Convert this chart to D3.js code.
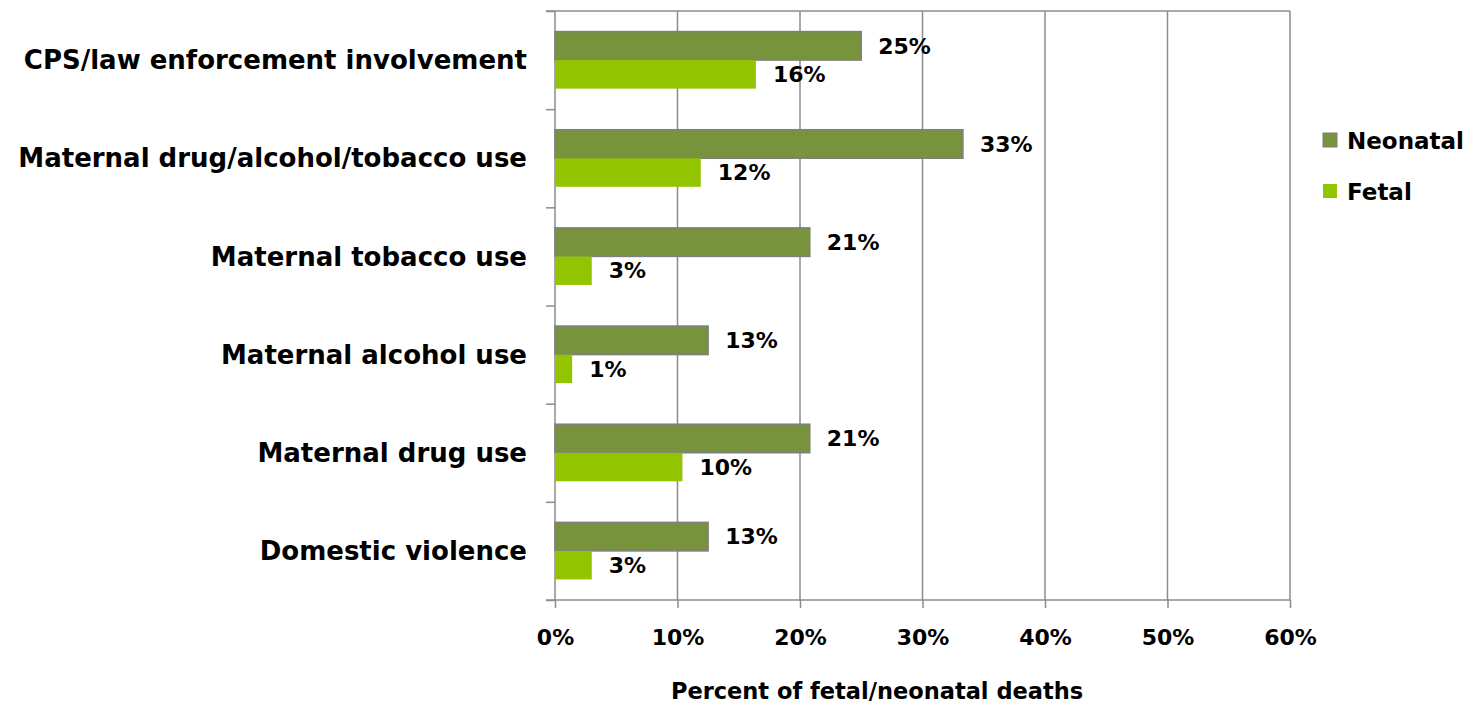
<!DOCTYPE html>
<html><head><meta charset="utf-8">
<script src="https://cdn.jsdelivr.net/npm/d3@7"></script>
<style>body{margin:0;background:#fff}svg{display:block}text{font-family:"DejaVu Sans",sans-serif;font-weight:700;fill:#000}</style>
</head><body>
<svg id="c" width="1470" height="708"></svg>
<script>
const categories = ["CPS/law enforcement involvement","Maternal drug/alcohol/tobacco use","Maternal tobacco use","Maternal alcohol use","Maternal drug use","Domestic violence"];
const seriesNames = ["Neonatal","Fetal"];
const neonatal = [25.0, 33.3, 20.8, 12.5, 20.8, 12.5];
const fetal = [16.4, 11.9, 3.0, 1.4, 10.4, 3.0];
const xTicks = [0,10,20,30,40,50,60];
const colors = ["#77933C","#92C400"];

const svg = d3.select("#c");
const m = {l:555, r:1290, t:11, b:600};
const x = d3.scaleLinear().domain([0,60]).range([m.l, m.r]);
const y = d3.scaleBand().domain(categories).range([m.t, m.b]);
const inner = d3.scaleBand().domain(seriesNames).range([0, y.bandwidth()]).paddingOuter(0.72).paddingInner(0);

// gridlines
svg.append("g").selectAll("line").data(xTicks.slice(1)).join("line")
  .attr("x1",d=>x(d)).attr("x2",d=>x(d)).attr("y1",m.t).attr("y2",m.b)
  .attr("stroke","#8c8c8c").attr("stroke-width",1.5);
// top border
svg.append("line").attr("x1",546).attr("x2",m.r).attr("y1",m.t).attr("y2",m.t).attr("stroke","#8c8c8c").attr("stroke-width",1.5);

// y axis
const ya = d3.axisLeft(d3.scaleLinear().domain([0,categories.length]).range([m.t,m.b])).ticks(categories.length).tickSize(9).tickFormat("");
const gy = svg.append("g").attr("transform",`translate(${m.l},0)`).call(ya);
gy.selectAll("path,line").attr("stroke","#8c8c8c").attr("stroke-width",1.5);
gy.select("path").attr("d",`M0,${m.t}V${m.b}`);

// x axis
const xa = d3.axisBottom(x).tickValues(xTicks).tickSize(8).tickFormat(d=>d+"%");
const gx = svg.append("g").attr("transform",`translate(0,${m.b})`).call(xa);
gx.select("path").attr("d",`M546,0H${m.r}`).attr("stroke","#8c8c8c").attr("stroke-width",1.5);
gx.selectAll("line").attr("stroke","#8c8c8c").attr("stroke-width",1.5);
gx.selectAll("text").attr("dy",0).attr("y",45).style("font-size","22px").style("font-family",null);

// category labels
svg.append("g").selectAll("text").data(categories).join("text")
  .attr("x",527).attr("y",d=>y(d)+y.bandwidth()/2).attr("dy","0.35em")
  .attr("text-anchor","end").style("font-size","26px").text(d=>d);

// bars
const data = [];
categories.forEach((c,i)=>{data.push({c,s:"Neonatal",v:neonatal[i]});data.push({c,s:"Fetal",v:fetal[i]});});
const bars = svg.append("g");
bars.selectAll("rect").data(data).join("rect")
  .attr("x",x(0)).attr("y",d=>y(d.c)+inner(d.s))
  .attr("width",d=>x(d.v)-x(0)).attr("height",inner.bandwidth())
  .attr("fill",d=>colors[seriesNames.indexOf(d.s)])
  .attr("stroke",d=>d.s==="Neonatal"?"#7f7f7f":"none").attr("stroke-width",1.5);
svg.append("g").selectAll("text").data(data).join("text")
  .attr("x",d=>x(d.v)+17).attr("y",d=>y(d.c)+inner(d.s)+inner.bandwidth()/2).attr("dy","0.35em")
  .style("font-size","22px").text(d=>Math.round(d.v)+"%");

// axis title
svg.append("text").attr("x",877).attr("y",699).attr("text-anchor","middle").style("font-size","22.5px").text("Percent of fetal/neonatal deaths");

// legend
const lg = svg.append("g").selectAll("g").data(seriesNames).join("g")
  .attr("transform",(d,i)=>`translate(1323,${133+i*51})`);
lg.append("rect").attr("width",14).attr("height",14).attr("fill",(d,i)=>colors[i])
  .attr("stroke",(d,i)=>i===0?"#7f7f7f":"none").attr("stroke-width",1);
lg.append("text").attr("x",24).attr("y",16).style("font-size","23px").text(d=>d);
</script>
</body></html>
